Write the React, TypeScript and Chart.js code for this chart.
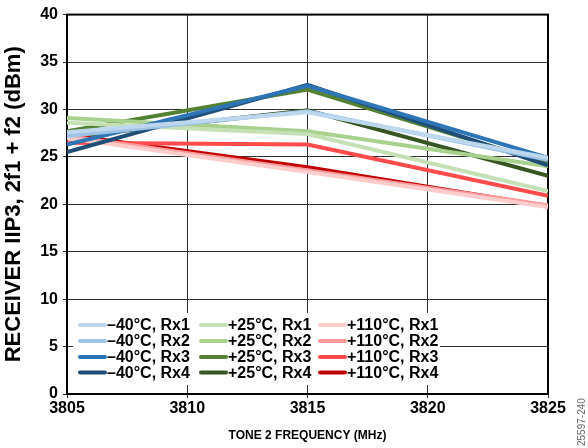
import React, { useEffect, useRef } from 'react';
import { Chart, registerables } from 'chart.js';

Chart.register(...registerables);

// ---- data ----
const frequencies = [3805, 3815, 3825];
const xMin = 3805;
const xMax = 3825;
const xStep = 5;
const yMin = 0;
const yMax = 40;
const yStep = 5;

const seriesLabels = [
  '–40°C, Rx1', '–40°C, Rx2', '–40°C, Rx3', '–40°C, Rx4',
  '+25°C, Rx1', '+25°C, Rx2', '+25°C, Rx3', '+25°C, Rx4',
  '+110°C, Rx1', '+110°C, Rx2', '+110°C, Rx3', '+110°C, Rx4',
];

const m40Rx1 = [27.6, 29.7, 24.9];
const m40Rx2 = [27.2, 29.8, 24.7];
const m40Rx3 = [26.3, 32.5, 24.9];
const m40Rx4 = [25.5, 32.6, 24.1];
const p25Rx1 = [28.6, 27.4, 21.4];
const p25Rx2 = [29.1, 27.7, 24.0];
const p25Rx3 = [27.7, 32.1, 24.3];
const p25Rx4 = [27.1, 29.9, 23.0];
const p110Rx1 = [27.0, 23.4, 19.7];
const p110Rx2 = [27.2, 23.6, 19.9];
const p110Rx3 = [26.5, 26.3, 20.9];
const p110Rx4 = [27.3, 23.9, 19.8];

const seriesValues = [
  m40Rx1, m40Rx2, m40Rx3, m40Rx4,
  p25Rx1, p25Rx2, p25Rx3, p25Rx4,
  p110Rx1, p110Rx2, p110Rx3, p110Rx4,
];

const seriesColors = [
  '#bdd7ee', '#9dc3e6', '#2e75b6', '#1f4e79',
  '#c5e0b4', '#a9d18e', '#548235', '#375623',
  '#ffcccc', '#ff9999', '#ff4b4b', '#c00000',
];

const xTitle = 'TONE 2 FREQUENCY (MHz)';
const yTitle = 'RECEIVER IIP3, 2f1 + f2 (dBm)';
const figureId = '25597-240';

const FONT = "Arial, 'Liberation Sans', sans-serif";

const framePlugin = {
  id: 'frame',
  beforeDatasetsDraw(chart: any) {
    const { ctx, chartArea: a } = chart;
    ctx.save();
    ctx.strokeStyle = '#000';
    ctx.lineWidth = 2;
    ctx.strokeRect(a.left, a.top, a.right - a.left, a.bottom - a.top);
    ctx.restore();
  },
};

const legendPlugin = {
  id: 'gridLegend',
  afterDatasetsDraw(chart: any) {
    const { ctx, chartArea: a } = chart;
    ctx.save();
    ctx.fillStyle = '#fff';
    ctx.fillRect(a.left + 6, a.bottom - 81, 367, 72);
    const colX = [13, 134, 253];
    const rowY = [-69, -53, -37, -21.5];
    ctx.font = `bold 16px ${FONT}`;
    ctx.textBaseline = 'middle';
    ctx.textAlign = 'left';
    chart.data.datasets.forEach((ds: any, i: number) => {
      const col = Math.floor(i / 4);
      const row = i % 4;
      const x = a.left + colX[col];
      const y = a.bottom + rowY[row];
      ctx.strokeStyle = ds.borderColor;
      ctx.lineWidth = 4;
      ctx.lineCap = 'round';
      ctx.beginPath();
      ctx.moveTo(x, y);
      ctx.lineTo(x + 25, y);
      ctx.stroke();
      ctx.fillStyle = '#000';
      ctx.fillText(ds.label, x + 27, y + 1);
    });
    ctx.restore();
  },
  afterDraw(chart: any) {
    const { ctx } = chart;
    ctx.save();
    ctx.translate(chart.width - 6, chart.height - 2);
    ctx.rotate(-Math.PI / 2);
    ctx.font = `10px ${FONT}`;
    ctx.fillStyle = '#666';
    ctx.textAlign = 'left';
    ctx.textBaseline = 'middle';
    ctx.fillText(figureId, 0, 0);
    ctx.restore();
  },
};

export default function App() {
  const ref = useRef<HTMLCanvasElement | null>(null);

  useEffect(() => {
    document.body.style.margin = '0';
    const canvas = ref.current;
    if (!canvas) return;
    const datasets = seriesValues.map((vals, i) => ({
      label: seriesLabels[i],
      data: vals.map((v, j) => ({ x: frequencies[j], y: v })),
      borderColor: seriesColors[i],
      backgroundColor: seriesColors[i],
      borderWidth: 4,
      pointRadius: 0,
      tension: 0,
      fill: false,
      order: i < 4 ? 0 : i < 8 ? 2 : 1,
    }));
    const chart = new Chart(canvas, {
      type: 'line',
      data: { datasets },
      options: {
        responsive: false,
        animation: false,
        layout: { padding: { left: 0, right: 40, top: 11, bottom: 0 } },
        plugins: {
          legend: { display: false },
          tooltip: { enabled: false },
        },
        scales: {
          x: {
            type: 'linear',
            min: xMin,
            max: xMax,
            ticks: {
              stepSize: xStep,
              color: '#000',
              font: { family: FONT, size: 16, weight: 'bold' },
              padding: 1,
              maxRotation: 0,
              callback: (v: any) => String(v),
            },
            grid: { color: '#303030', lineWidth: 1, tickLength: 4, drawTicks: true },
            border: { color: '#000', width: 2 },
            title: {
              display: true,
              text: xTitle,
              color: '#000',
              font: { family: FONT, size: 12, weight: 'bold' },
              padding: { top: 0, bottom: 5 },
            },
            afterFit: (s: any) => { s.height = 54; },
          },
          y: {
            min: yMin,
            max: yMax,
            ticks: {
              stepSize: yStep,
              color: '#000',
              font: { family: FONT, size: 16, weight: 'bold' },
              padding: 5,
            },
            grid: { color: '#303030', lineWidth: 1, tickLength: 4, drawTicks: true },
            border: { color: '#000', width: 2 },
            title: {
              display: true,
              text: yTitle,
              color: '#000',
              font: { family: FONT, size: 22, weight: 'bold' },
              padding: { top: 1, bottom: 0 },
            },
            afterFit: (s: any) => { s.width = 67; },
          },
        },
      },
      plugins: [framePlugin, legendPlugin],
    });
    return () => chart.destroy();
  }, []);

  return (
    <div style={{ width: 588, height: 448 }}>
      <canvas ref={ref} width={588} height={448} />
    </div>
  );
}
